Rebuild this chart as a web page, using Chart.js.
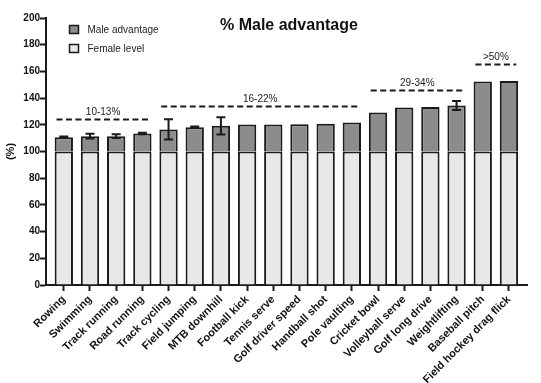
<!DOCTYPE html>
<html>
<head>
<meta charset="utf-8">
<script src="https://cdn.jsdelivr.net/npm/chart.js@4/dist/chart.umd.min.js"></script>
<style>
  html, body { margin: 0; padding: 0; background: #ffffff; }
  #wrap { width: 541px; height: 383px; position: relative; }
</style>
</head>
<body>
<div id="wrap"><canvas id="c" width="541" height="383"></canvas></div>
<script>
// ---- data ----
const sports = ['Rowing', 'Swimming', 'Track running', 'Road running', 'Track cycling', 'Field jumping',
  'MTB downhill', 'Football kick', 'Tennis serve', 'Golf driver speed', 'Handball shot', 'Pole vaulting',
  'Cricket bowl', 'Volleyball serve', 'Golf long drive', 'Weightlifting', 'Baseball pitch', 'Field hockey drag flick'];
const femaleLevel = [100, 100, 100, 100, 100, 100, 100, 100, 100, 100, 100, 100, 100, 100, 100, 100, 100, 100];
const maleAdvantage = [10.7, 11.5, 11.5, 13.5, 16.5, 18.2, 19.2, 20.2, 20.2, 20.4, 20.7, 21.7, 29.2, 32.9, 33.4, 34.5, 52.4, 52.9];
const maleError = [0.6, 1.8, 1.4, 0.6, 7.6, 0.6, 6.5, 0, 0, 0, 0, 0, 0, 0, 0, 3.4, 0, 0];
const groupLabels = ['10-13%', '16-22%', '29-34%', '>50%'];
const groupFirst = [0, 4, 12, 16];
const groupLast = [3, 11, 15, 17];
const groupLevel = [124, 134, 146.3, 165.8];
const yTicks = [0, 20, 40, 60, 80, 100, 120, 140, 160, 180, 200];

const FONT = '"Liberation Sans", Arial, Helvetica, sans-serif';
const INK = '#1a1a1a';

const extrasPlugin = {
  id: 'extras',
  afterDatasetsDraw(chart) {
    const ctx = chart.ctx;
    const ys = chart.scales.y;
    const meta = chart.getDatasetMeta(1);
    ctx.save();
    ctx.strokeStyle = INK;
    ctx.lineWidth = 2;
    meta.data.forEach((el, i) => {
      const e = maleError[i];
      if (!e) return;
      const top = femaleLevel[i] + maleAdvantage[i];
      const y1 = ys.getPixelForValue(top + e);
      const y2 = ys.getPixelForValue(top - e);
      const x = el.x, w = 4.5;
      ctx.beginPath();
      ctx.moveTo(x, y1); ctx.lineTo(x, y2);
      ctx.moveTo(x - w, y1); ctx.lineTo(x + w, y1);
      ctx.moveTo(x - w, y2); ctx.lineTo(x + w, y2);
      ctx.stroke();
    });
    ctx.restore();
  },
  afterDraw(chart) {
    const ctx = chart.ctx;
    const xs = chart.scales.x, ys = chart.scales.y;
    ctx.save();
    // group brackets
    ctx.strokeStyle = INK;
    ctx.lineWidth = 2;
    ctx.setLineDash([6, 3.5]);
    ctx.fillStyle = '#222';
    ctx.font = '10px ' + FONT;
    ctx.textAlign = 'center';
    ctx.textBaseline = 'alphabetic';
    groupLabels.forEach((lab, g) => {
      const xa = xs.getPixelForValue(groupFirst[g] - 0.28);
      const xb = xs.getPixelForValue(groupLast[g] + 0.28);
      const y = Math.round(ys.getPixelForValue(groupLevel[g])) + 0.5;
      ctx.beginPath();
      ctx.moveTo(xa, y); ctx.lineTo(xb, y);
      ctx.stroke();
      ctx.fillText(lab, (xa + xb) / 2, y - 5);
    });
    ctx.setLineDash([]);
    // chart title
    ctx.font = 'bold 16px ' + FONT;
    ctx.fillStyle = '#111';
    ctx.textBaseline = 'middle';
    ctx.fillText('% Male advantage', chart.chartArea.left + (chart.chartArea.right - chart.chartArea.left) * 0.505, 26);
    // legend (reverse order)
    const ds = chart.data.datasets.slice().reverse();
    ctx.font = '10px ' + FONT;
    ctx.textAlign = 'left';
    ds.forEach((d, k) => {
      const bx = chart.chartArea.left + 23.5, by = 25.5 + k * 19;
      ctx.fillStyle = d.backgroundColor;
      ctx.fillRect(bx, by, 9, 8);
      ctx.strokeStyle = INK;
      ctx.lineWidth = 1.5;
      ctx.strokeRect(bx, by, 9, 8);
      ctx.fillStyle = '#222';
      ctx.fillText(d.label, bx + 18, by + 4.5);
    });
    ctx.restore();
  }
};

new Chart(document.getElementById('c'), {
  type: 'bar',
  data: {
    datasets: [
      {
        label: 'Female level',
        data: femaleLevel.map((v, i) => ({ x: i, y: v })),
        backgroundColor: '#e8e8e8',
        borderColor: INK,
        borderWidth: 2,
        borderSkipped: 'start',
        barPercentage: 0.7,
        categoryPercentage: 1
      },
      {
        label: 'Male advantage',
        data: maleAdvantage.map((v, i) => ({ x: i, y: v })),
        backgroundColor: '#8c8c8c',
        borderColor: INK,
        borderWidth: 2,
        borderSkipped: 'start',
        barPercentage: 0.7,
        categoryPercentage: 1
      }
    ]
  },
  options: {
    responsive: false,
    animation: false,
    layout: { padding: { top: 18, right: 14, left: 0, bottom: 0 } },
    plugins: {
      legend: { display: false },
      title: { display: false },
      tooltip: { enabled: false }
    },
    scales: {
      x: {
        type: 'linear',
        stacked: true,
        offset: false,
        min: -0.68,
        max: 17.69,
        afterFit(scale) { scale.height = 98; },
        afterBuildTicks(scale) { scale.ticks = sports.map((s, i) => ({ value: i })); },
        ticks: {
          autoSkip: false,
          minRotation: 45,
          maxRotation: 45,
          padding: 2,
          color: '#111',
          font: { family: FONT, size: 11, weight: 'bold' },
          callback: (v) => sports[v]
        },
        grid: { display: true, drawOnChartArea: false, drawTicks: true, tickLength: 6, tickColor: INK, tickWidth: 2, offset: false },
        border: { display: true, color: INK, width: 2 }
      },
      y: {
        stacked: true,
        min: 0,
        max: 200,
        afterFit(scale) { scale.width = 46; },
        afterBuildTicks(scale) { scale.ticks = yTicks.map(v => ({ value: v })); },
        ticks: {
          padding: 0,
          color: '#111',
          font: { family: FONT, size: 10, weight: 'bold' }
        },
        title: {
          display: true,
          text: '(%)',
          color: '#111',
          padding: { top: 4, bottom: 0 },
          font: { family: FONT, size: 11, weight: 'bold' }
        },
        grid: { display: true, drawOnChartArea: false, drawTicks: true, tickLength: 6, tickColor: INK, tickWidth: 2 },
        border: { display: true, color: INK, width: 2 }
      }
    }
  },
  plugins: [extrasPlugin]
});
</script>
</body>
</html>
